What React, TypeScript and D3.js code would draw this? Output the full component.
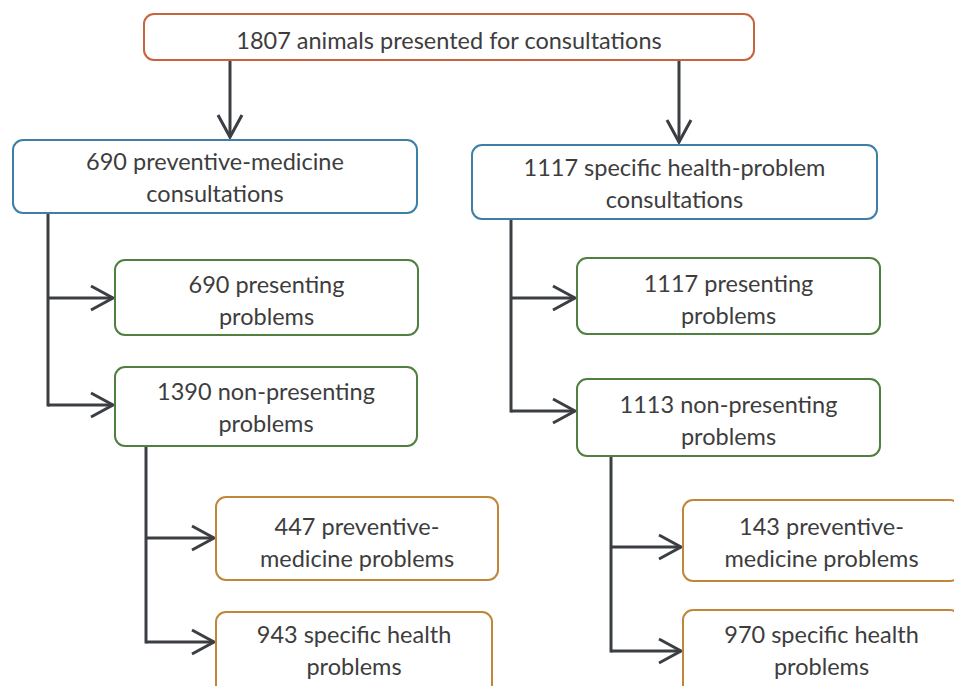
import React, { useEffect, useRef } from "react";
import * as d3 from "d3";

// counts shown in each box, in reading order
const counts = [1807, 690, 1117, 690, 1390, 1117, 1113, 447, 943, 143, 970];

// the text that follows each count, split into lines
const labels = [
  ["animals presented for consultations"],
  ["preventive-medicine", "consultations"],
  ["specific health-problem", "consultations"],
  ["presenting", "problems"],
  ["non-presenting", "problems"],
  ["presenting", "problems"],
  ["non-presenting", "problems"],
  ["preventive-", "medicine problems"],
  ["specific health", "problems"],
  ["preventive-", "medicine problems"],
  ["specific health", "problems"],
];

// level of each box: 0 total, 1 consultation type, 2 presenting split, 3 problem type
const levels = [0, 1, 1, 2, 2, 2, 2, 3, 3, 3, 3];

// parent -> children
const links = [
  [0, 1], [0, 2],
  [1, 3], [1, 4],
  [2, 5], [2, 6],
  [4, 7], [4, 8],
  [6, 9], [6, 10],
];

// box geometry [x0, y0, x1, y1]
const boxes = [
  [144, 14, 754, 60],
  [13, 140, 417, 213],
  [472, 145, 877, 219],
  [115, 260, 418, 335],
  [115, 367, 417, 446],
  [577, 258, 880, 334],
  [577, 379, 880, 456],
  [216, 497, 498, 580],
  [216, 612, 492, 700],
  [683, 500, 960, 581],
  [683, 610, 960, 700],
];

// first baseline inside each box
const baselines = [49, 170, 176, 293, 400, 292, 413, 535, 643, 535, 643];

// trunk x of the bracket connector below each parent, and arrow y for each child
const trunkX: Record<number, number> = { 0: 0, 1: 48, 2: 511, 4: 146, 6: 611 };
const arrowY: Record<number, number> = { 3: 298, 4: 405, 5: 298, 6: 411, 7: 538, 8: 642, 9: 547, 10: 651 };
const topArrowX: Record<number, number> = { 1: 230, 2: 679 };

const borderColors = ["#c8643c", "#3d7fa6", "#4f8040", "#c0873a"];
const lineColor = "#3b3e43";
const textColor = "#3d3d3d";

export default function App() {
  const ref = useRef<SVGSVGElement>(null);

  useEffect(() => {
    const svg = d3.select(ref.current);
    svg.selectAll("*").remove();

    const g = svg.append("g");

    // connectors
    const conn = g.append("g").attr("fill", "none").attr("stroke", lineColor).attr("stroke-width", 3);
    const head = 22;
    const half = 12;

    links.forEach(([p, c]) => {
      const pb = boxes[p];
      const cb = boxes[c];
      if (p === 0) {
        const x = topArrowX[c];
        const tip = cb[1] - 3;
        conn.append("line").attr("x1", x).attr("x2", x).attr("y1", pb[3]).attr("y2", tip);
        conn
          .append("path")
          .attr("d", `M${x - half},${tip - head}L${x},${tip}L${x + half},${tip - head}`);
      } else {
        const x = trunkX[p];
        const y = arrowY[c];
        const tip = cb[0] - 2;
        conn.append("line").attr("x1", x).attr("x2", tip).attr("y1", y).attr("y2", y);
        conn
          .append("path")
          .attr("d", `M${tip - head},${y - half}L${tip},${y}L${tip - head},${y + half}`);
      }
    });

    // vertical trunks
    Object.keys(trunkX)
      .map(Number)
      .filter((p) => p !== 0)
      .forEach((p) => {
        const kids = links.filter((l) => l[0] === p).map((l) => l[1]);
        const yEnd = d3.max(kids, (k) => arrowY[k]) as number;
        conn
          .append("line")
          .attr("x1", trunkX[p])
          .attr("x2", trunkX[p])
          .attr("y1", boxes[p][3])
          .attr("y2", yEnd + 1.5);
      });

    // boxes
    const node = g
      .selectAll("g.node")
      .data(counts.map((n, i) => ({ n, i })))
      .enter()
      .append("g")
      .attr("class", "node");

    node
      .append("rect")
      .attr("x", (d) => boxes[d.i][0])
      .attr("y", (d) => boxes[d.i][1])
      .attr("width", (d) => boxes[d.i][2] - boxes[d.i][0])
      .attr("height", (d) => boxes[d.i][3] - boxes[d.i][1])
      .attr("rx", 10)
      .attr("fill", "#fff")
      .attr("stroke", (d) => borderColors[levels[d.i]])
      .attr("stroke-width", 2);

    node
      .append("text")
      .attr("text-anchor", "middle")
      .attr("fill", textColor)
      .attr("font-size", 23.5)
      .selectAll("tspan")
      .data((d) =>
        labels[d.i].map((t, j) => ({
          t: j === 0 ? `${d.n} ${t}` : t,
          x: (boxes[d.i][0] + boxes[d.i][2]) / 2,
          y: baselines[d.i] + j * 32,
        }))
      )
      .enter()
      .append("tspan")
      .attr("x", (d) => d.x)
      .attr("y", (d) => d.y)
      .text((d) => d.t);
  }, []);

  return (
    <svg
      ref={ref}
      width={954}
      height={686}
      style={{ position: "absolute", left: 0, top: 0, fontFamily: "Lato, 'Open Sans', sans-serif", background: "#fff" }}
    />
  );
}
